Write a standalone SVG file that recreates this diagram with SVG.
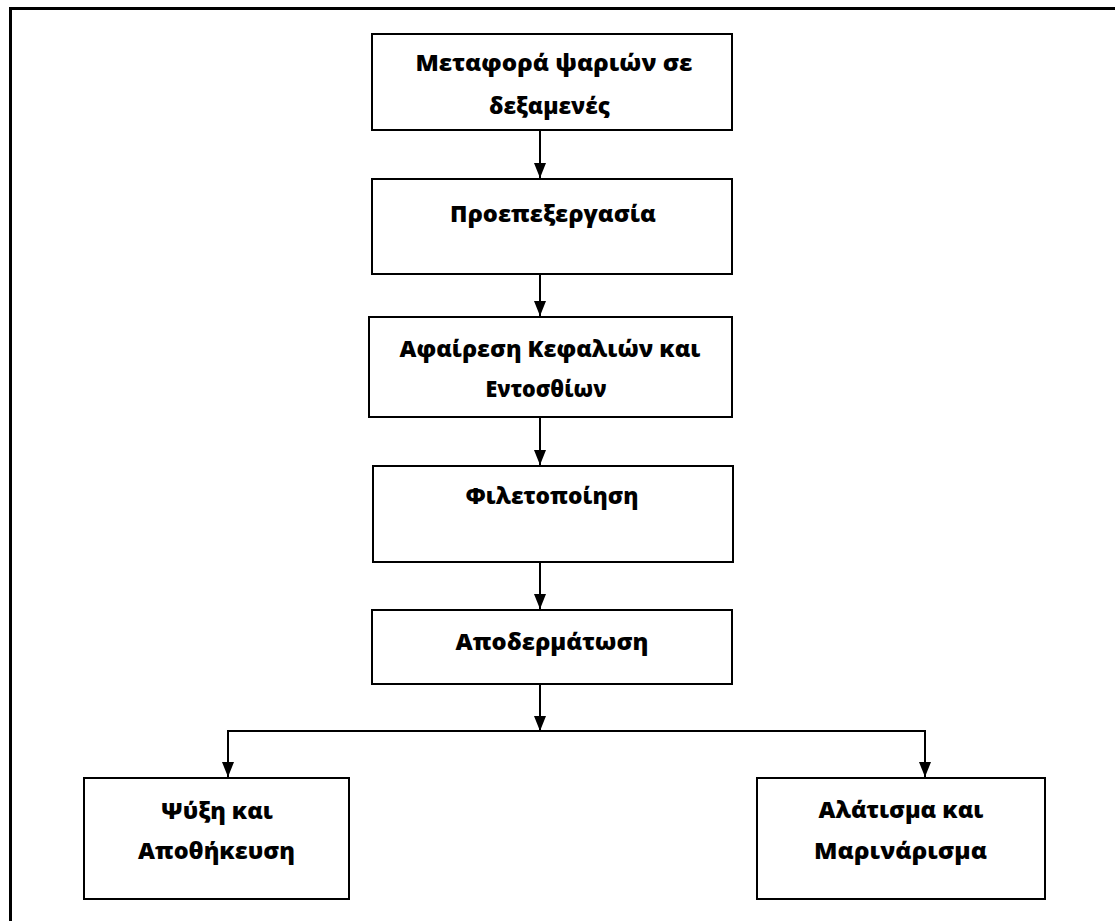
<svg xmlns="http://www.w3.org/2000/svg" width="1115" height="921" viewBox="0 0 1115 921">
<style>
.box{fill:#fff;stroke:#000;stroke-width:2}
.lbl{font-family:"Open Sans","Noto Sans","DejaVu Sans",sans-serif;font-weight:800;font-size:22px;fill:#000;text-anchor:middle}
.ln{stroke:#000;stroke-width:2;fill:none}
.frame{stroke:#000;stroke-width:3;fill:none}
</style>
<defs>
<marker id="ah" viewBox="0 0 15 12" refX="15" refY="6" markerWidth="15" markerHeight="12" markerUnits="userSpaceOnUse" orient="auto">
<path d="M0,0 L15,6 L0,12 Z"/>
</marker>
</defs>
<rect width="1115" height="921" fill="#fff"/>
<path class="frame" d="M10.5,921 L10.5,8.5 L1115,8.5"/>
<g id="connectors">
<line class="ln" x1="540" y1="131" x2="540" y2="178" marker-end="url(#ah)"/>
<line class="ln" x1="540" y1="275" x2="540" y2="316" marker-end="url(#ah)"/>
<line class="ln" x1="540" y1="418" x2="540" y2="465" marker-end="url(#ah)"/>
<line class="ln" x1="540" y1="563" x2="540" y2="609" marker-end="url(#ah)"/>
<line class="ln" x1="540" y1="685" x2="540" y2="731" marker-end="url(#ah)"/>
<path class="ln" d="M228,760 L228,731 L925,731 L925,760"/>
<line class="ln" x1="228" y1="740" x2="228" y2="777" marker-end="url(#ah)"/>
<line class="ln" x1="925" y1="740" x2="925" y2="777" marker-end="url(#ah)"/>
</g>
<g id="n1">
<rect class="box" x="372" y="34" width="360" height="96"/>
<text class="lbl" x="554" y="71" textLength="277" lengthAdjust="spacingAndGlyphs">Μεταφορά ψαριών σε</text>
<text class="lbl" x="549.5" y="114" textLength="121" lengthAdjust="spacingAndGlyphs">δεξαμενές</text>
</g>
<g id="n2">
<rect class="box" x="372" y="179" width="360" height="95"/>
<text class="lbl" x="553" y="222" textLength="206" lengthAdjust="spacingAndGlyphs">Προεπεξεργασία</text>
</g>
<g id="n3">
<rect class="box" x="369" y="317" width="363" height="100"/>
<text class="lbl" x="550" y="357" textLength="301" lengthAdjust="spacingAndGlyphs">Αφαίρεση Κεφαλιών και</text>
<text class="lbl" x="546" y="397" textLength="121" lengthAdjust="spacingAndGlyphs">Εντοσθίων</text>
</g>
<g id="n4">
<rect class="box" x="373" y="466" width="360" height="96"/>
<text class="lbl" x="552" y="504" textLength="173" lengthAdjust="spacingAndGlyphs">Φιλετοποίηση</text>
</g>
<g id="n5">
<rect class="box" x="372" y="610" width="360" height="74"/>
<text class="lbl" x="552" y="650" textLength="193" lengthAdjust="spacingAndGlyphs">Αποδερμάτωση</text>
</g>
<g id="n6">
<rect class="box" x="84" y="778" width="265" height="121"/>
<text class="lbl" x="217" y="819" textLength="112" lengthAdjust="spacingAndGlyphs">Ψύξη και</text>
<text class="lbl" x="216.5" y="859" textLength="157" lengthAdjust="spacingAndGlyphs">Αποθήκευση</text>
</g>
<g id="n7">
<rect class="box" x="757" y="778" width="288" height="121"/>
<text class="lbl" x="901" y="818" textLength="165" lengthAdjust="spacingAndGlyphs">Αλάτισμα και</text>
<text class="lbl" x="900.5" y="859" textLength="173" lengthAdjust="spacingAndGlyphs">Μαρινάρισμα</text>
</g>
</svg>
